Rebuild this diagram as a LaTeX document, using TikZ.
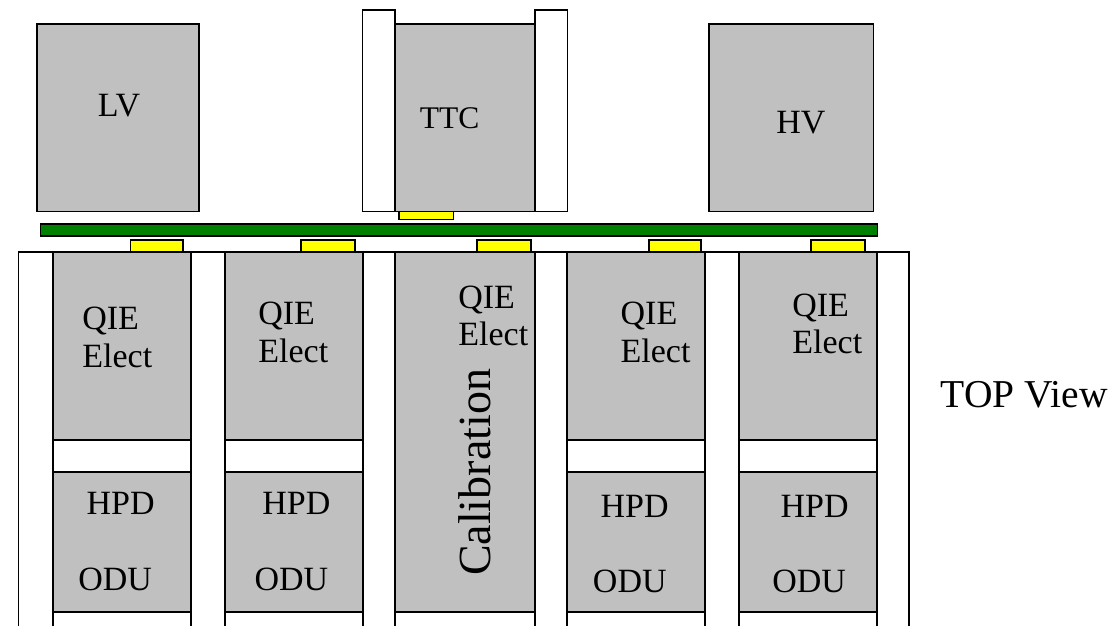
\documentclass[tikz,border=0pt]{standalone}
\usepackage{fontspec}
\setmainfont{Liberation Serif}
\usetikzlibrary{positioning}
\definecolor{BoxGray}{RGB}{192,192,192}
\definecolor{BusGreen}{RGB}{0,128,0}
\definecolor{TabYellow}{RGB}{255,255,0}

\begin{document}
\begin{tikzpicture}[
    x=1pt, y=-1pt,
    line width=1.3pt,
    box/.style={rectangle, draw=black, fill=#1, inner sep=0pt, line width=1.3pt},
    box/.default=BoxGray,
    panel/.style={draw=black, fill=white},
    lbl/.style={font=\fontsize{34}{37.5}\selectfont, inner sep=0pt, anchor=base west},
    qie/.style={font=\fontsize{34}{37.5}\selectfont, inner sep=0pt, anchor=north west, align=left},
]
\useasboundingbox (0,0) rectangle (1111,626);
\clip (0,0) rectangle (1111,626);

% ── Crate frame below the bus ──
\draw[panel] (18.7,252) rectangle (909,640);
\foreach \xa/\xb in {53/191, 225/363, 395/535, 567/705, 739/877}
    \draw[panel] (\xa,252) rectangle (\xb,640);

% ── Top row: LV, TTC, HV ──
\draw[panel] (362.7,10) rectangle (395,211.7);
\draw[panel] (535,10) rectangle (567.3,211.7);

\node[box, minimum width=162pt, minimum height=187.7pt] (lv) at (118,117.85) {};
\node[box, minimum width=140pt, minimum height=187.7pt] (ttc) at (465,117.85) {};
\node[box, minimum width=164.3pt, minimum height=187.7pt] (hv) at (791.2,117.85) {};

\node[lbl] (lvtxt) at (97.3,116) {LV};
\node[lbl, font=\fontsize{31.5}{35}\selectfont] (ttctxt) at (419.3,128.3) {TTC};
\node[lbl] (hvtxt) at (775.7,133.3) {HV};

% ── Backplane bus and connectors ──
\node[box=TabYellow, minimum width=54.3pt, minimum height=8pt] (ttctab) at (426.2,215.7) {};
\node[box=BusGreen, minimum width=836.6pt, minimum height=12pt] (bus) at (459,230) {};

\node[box=TabYellow, minimum width=52.3pt, minimum height=12pt] (tab1) at (156.9,246) {};
\node[box=TabYellow, minimum width=54pt, minimum height=12pt] (tab2) at (328,246) {};
\node[box=TabYellow, minimum width=54pt, minimum height=12pt] (tab3) at (504,246) {};
\node[box=TabYellow, minimum width=52pt, minimum height=12pt] (tab4) at (675,246) {};
\node[box=TabYellow, minimum width=54pt, minimum height=12pt] (tab5) at (838,246) {};

% ── QIE electronics slots ──
\node[box, minimum width=138pt, minimum height=188pt] (qie1) at (122,346) {};
\node[box, minimum width=138pt, minimum height=188pt] (qie2) at (294,346) {};
\node[box, minimum width=138pt, minimum height=188pt] (qie4) at (636,346) {};
\node[box, minimum width=138pt, minimum height=188pt] (qie5) at (808,346) {};

% ── HPD / ODU slots ──
\node[box, minimum width=138pt, minimum height=140pt] (hpd1) at (122,542) {};
\node[box, minimum width=138pt, minimum height=140pt] (hpd2) at (294,542) {};
\node[box, minimum width=138pt, minimum height=140pt] (hpd4) at (636,542) {};
\node[box, minimum width=138pt, minimum height=140pt] (hpd5) at (808,542) {};

% ── Calibration slot ──
\node[box, minimum width=140pt, minimum height=360pt] (calib) at (465,432) {};

% ── Labels ──
\node[qie] (qietxt1) at (81.7,306.7) {QIE\\Elect};
\node[qie] (qietxt2) at (257.7,301.7) {QIE\\Elect};
\node[qie] (qietxt3) at (457.7,285) {QIE\\Elect};
\node[qie] (qietxt4) at (620,301.7) {QIE\\Elect};
\node[qie] (qietxt5) at (791.7,293.3) {QIE\\Elect};

\node[lbl] (hpdtxt1) at (86,514) {HPD};
\node[lbl] (hpdtxt2) at (261.7,514) {HPD};
\node[lbl] (hpdtxt4) at (600,517.3) {HPD};
\node[lbl] (hpdtxt5) at (780,517.3) {HPD};

\node[lbl] (odutxt1) at (77.7,590) {ODU};
\node[lbl] (odutxt2) at (254,590) {ODU};
\node[lbl] (odutxt4) at (592.3,592.7) {ODU};
\node[lbl] (odutxt5) at (771.7,592.7) {ODU};

\node[font=\fontsize{46}{50}\selectfont, inner sep=0pt, rotate=90, anchor=base]
    (calibtxt) at (490,472.5) {Calibration};

\node[lbl, font=\fontsize{39.5}{42}\selectfont] (viewtxt) at (940,407.7) {TOP View};

\end{tikzpicture}
\end{document}
